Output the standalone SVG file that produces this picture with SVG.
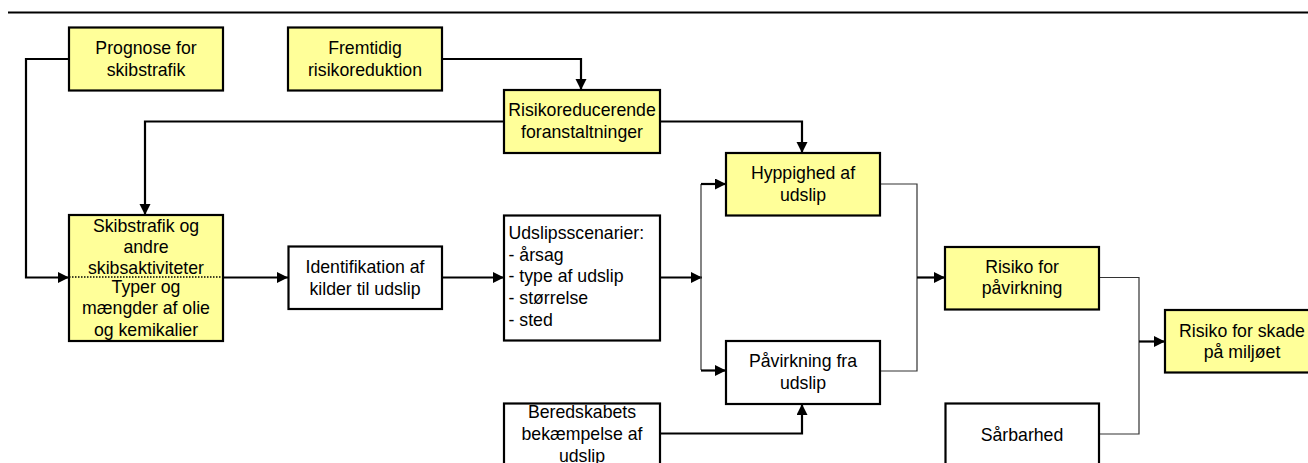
<svg xmlns="http://www.w3.org/2000/svg" width="1308" height="463" viewBox="0 0 1308 463">
<defs>
<marker id="arr" markerUnits="userSpaceOnUse" markerWidth="12" markerHeight="12" refX="11" refY="5.5" orient="auto">
<path d="M0,0 L11,5.5 L0,11 z" fill="#000"/>
</marker>
<style>
.box{stroke:#000;stroke-width:2.2}
.y{fill:#FFFF99}
.w{fill:#fff}
.t{font-family:"Liberation Sans",Arial,sans-serif;font-size:17.7px;fill:#000;text-anchor:middle}
.tl{font-family:"Liberation Sans",Arial,sans-serif;font-size:17.7px;fill:#000}
.c{fill:none;stroke:#000;stroke-width:2.2}
.a{marker-end:url(#arr)}
.thin{fill:none;stroke:#333;stroke-width:1.2}
</style>
</defs>
<rect width="1308" height="463" fill="#fff"/>
<line x1="8" y1="12.5" x2="1308" y2="12.5" stroke="#000" stroke-width="2"/>

<g id="connectors">
<path class="c a" d="M69,59 H26 V277.5 H69"/>
<path class="c a" d="M504,121.5 H145 V215"/>
<path class="c a" d="M442,59 H581 V90"/>
<path class="c a" d="M660,121.5 H802 V153"/>
<path class="c a" d="M223,277.5 H288"/>
<path class="c a" d="M442,277.5 H504"/>
<path class="c a" d="M660,277.5 H702"/>
<path class="thin" d="M701,184 V370"/>
<path class="c a" d="M701,184 H726"/>
<path class="c a" d="M701,370.5 H726"/>
<path class="c a" d="M660,433.5 H802 V404"/>
<path class="thin" d="M880,184 H917 V371 H880"/>
<path class="c a" d="M917,277.5 H945"/>
<path class="thin" d="M1099,277.5 H1139 V434 H1099"/>
<path class="c a" d="M1139,341.5 H1165"/>
</g>

<g id="prognose">
<rect class="box y" x="69" y="27.5" width="154" height="63"/>
<text class="t" x="146" y="54">Prognose for</text>
<text class="t" x="146" y="76">skibstrafik</text>
</g>
<g id="fremtidig">
<rect class="box y" x="288" y="27.5" width="154" height="63"/>
<text class="t" x="365" y="54">Fremtidig</text>
<text class="t" x="365" y="76">risikoreduktion</text>
</g>
<g id="risikoreducerende">
<rect class="box y" x="504" y="90" width="156" height="63"/>
<text class="t" x="582" y="116">Risikoreducerende</text>
<text class="t" x="582" y="137.5">foranstaltninger</text>
</g>
<g id="hyppighed">
<rect class="box y" x="726" y="153" width="154" height="62.5"/>
<text class="t" x="803" y="179">Hyppighed af</text>
<text class="t" x="803" y="200.5">udslip</text>
</g>
<g id="skibstrafik">
<rect class="box y" x="69" y="215" width="154" height="126"/>
<line x1="69" y1="277" x2="223" y2="277" stroke="#000" stroke-width="1.5" stroke-dasharray="1.5,1.5"/>
<text class="t" x="146" y="231.5">Skibstrafik og</text>
<text class="t" x="146" y="252.5">andre</text>
<text class="t" x="146" y="274">skibsaktiviteter</text>
<text class="t" x="146" y="292.5">Typer og</text>
<text class="t" x="146" y="314.3">mængder af olie</text>
<text class="t" x="146" y="335.7">og kemikalier</text>
</g>
<g id="identifikation">
<rect class="box w" x="288.5" y="246.5" width="153.5" height="62.5"/>
<text class="t" x="365" y="273.3">Identifikation af</text>
<text class="t" x="365" y="294.5">kilder til udslip</text>
</g>
<g id="udslipsscenarier">
<rect class="box w" x="504" y="215.5" width="156" height="125"/>
<text class="tl" x="508.5" y="239">Udslipsscenarier:</text>
<text class="tl" x="508.5" y="260.5">- årsag</text>
<text class="tl" x="508.5" y="282">- type af udslip</text>
<text class="tl" x="508.5" y="304">- størrelse</text>
<text class="tl" x="508.5" y="325.7">- sted</text>
</g>
<g id="paavirkning">
<rect class="box w" x="726" y="341" width="154" height="63"/>
<text class="t" x="803" y="367.3">Påvirkning fra</text>
<text class="t" x="803" y="389">udslip</text>
</g>
<g id="beredskabets">
<rect class="box w" x="504" y="403.5" width="156" height="63"/>
<text class="t" x="582" y="417.5">Beredskabets</text>
<text class="t" x="582" y="439.5">bekæmpelse af</text>
<text class="t" x="582" y="461.5">udslip</text>
</g>
<g id="risiko-paavirkning">
<rect class="box y" x="945" y="247" width="154" height="62.5"/>
<text class="t" x="1022" y="272.7">Risiko for</text>
<text class="t" x="1022" y="294">påvirkning</text>
</g>
<g id="saarbarhed">
<rect class="box w" x="945.5" y="403.5" width="153.5" height="63"/>
<text class="t" x="1022" y="440.7">Sårbarhed</text>
</g>
<g id="risiko-skade">
<rect class="box y" x="1165" y="310" width="154" height="62.5"/>
<text class="t" x="1242" y="336.5">Risiko for skade</text>
<text class="t" x="1242" y="357.5">på miljøet</text>
</g>
</svg>
